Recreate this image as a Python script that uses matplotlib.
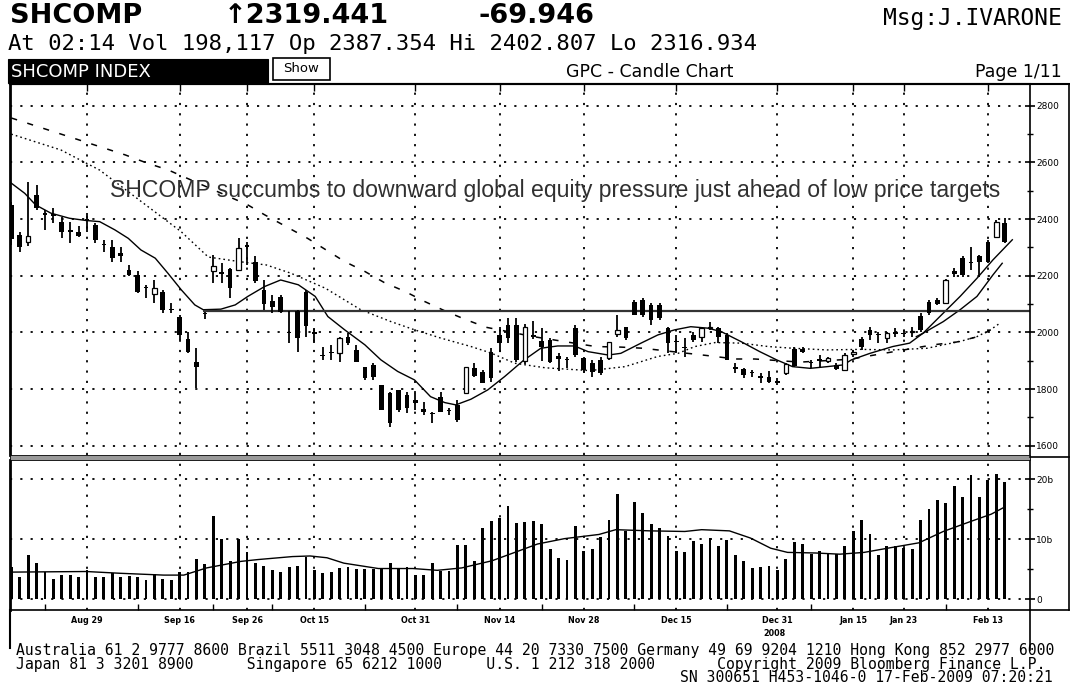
import numpy as np
import matplotlib
matplotlib.use("Agg")
import matplotlib.pyplot as plt
from matplotlib.patches import Rectangle
from matplotlib.lines import Line2D

W, H = 1070, 684

# ---- candle data (one entry per trading day, oldest first) ----
opens = [2450, 2345, 2320, 2486, 2420, 2418, 2391, 2360, 2356, 2400,
         2380, 2311, 2303, 2280, 2220, 2203, 2158, 2136, 2144, 2082,
         2056, 1976, 1897, 2068, 2215, 2212, 2223, 2221, 2310, 2250,
         2150, 2110, 2126, 2001, 2074, 2144, 2000, 1918, 1930, 1926,
         1985, 1938, 1879, 1885, 1814, 1785, 1797, 1779, 1760, 1730,
         1715, 1773, 1724, 1744, 1785, 1873, 1861, 1932, 1991, 2026,
         2026, 1900, 1990, 1970, 1973, 1915, 1905, 2015, 1908, 1891,
         1903, 1909, 1995, 2020, 2108, 2114, 2097, 2097, 2015, 1970,
         1950, 1991, 1985, 2015, 2015, 1991, 1876, 1870, 1857, 1845,
         1844, 1830, 1855, 1940, 1940, 1893, 1905, 1900, 1885, 1868,
         1925, 1975, 2010, 1993, 1980, 1998, 1998, 2000, 2058, 2108,
         2115, 2103, 2215, 2262, 2250, 2268, 2320, 2338, 2387]
highs = [2460, 2356, 2530, 2521, 2433, 2438, 2409, 2391, 2374, 2421,
         2385, 2327, 2327, 2303, 2238, 2218, 2168, 2186, 2150, 2103,
         2062, 2003, 1944, 2072, 2273, 2244, 2226, 2332, 2320, 2268,
         2185, 2132, 2132, 2074, 2080, 2150, 2015, 1950, 1956, 1985,
         1997, 1956, 1879, 1891, 1814, 1791, 1797, 1791, 1785, 1755,
         1720, 1791, 1732, 1761, 1879, 1891, 1867, 1944, 2020, 2050,
         2050, 2030, 2040, 2015, 1980, 1926, 1914, 2026, 1914, 1903,
         1914, 1967, 2060, 2020, 2114, 2120, 2103, 2103, 2020, 1991,
         1980, 2003, 2020, 2038, 2020, 1997, 1891, 1873, 1867, 1856,
         1862, 1838, 1893, 1950, 1950, 1903, 1920, 1914, 1891, 1926,
         1938, 1985, 2020, 2003, 2003, 2015, 2009, 2020, 2068, 2114,
         2120, 2188, 2226, 2268, 2303, 2274, 2327, 2397, 2403]
lows = [2310, 2285, 2305, 2433, 2362, 2385, 2332, 2315, 2335, 2356,
        2315, 2285, 2250, 2250, 2199, 2138, 2121, 2103, 2068, 2068,
        1974, 1927, 1803, 2048, 2174, 2174, 2121, 2215, 2238, 2174,
        2080, 2068, 2068, 1962, 1932, 1985, 1962, 1903, 1903, 1897,
        1956, 1897, 1832, 1832, 1726, 1667, 1720, 1714, 1726, 1708,
        1681, 1720, 1708, 1685, 1785, 1844, 1820, 1826, 1932, 1962,
        1897, 1890, 1975, 1900, 1891, 1862, 1873, 1914, 1856, 1844,
        1850, 1903, 1985, 1974, 2062, 2056, 2026, 2044, 1926, 1926,
        1914, 1967, 1967, 2008, 1962, 1903, 1856, 1838, 1844, 1820,
        1820, 1815, 1848, 1879, 1926, 1873, 1879, 1891, 1867, 1862,
        1914, 1938, 1973, 1962, 1962, 1985, 1985, 1985, 2003, 2062,
        2097, 2103, 2197, 2197, 2220, 2197, 2244, 2333, 2317]
closes = [2330, 2300, 2340, 2440, 2415, 2412, 2356, 2355, 2340, 2397,
          2327, 2308, 2262, 2270, 2203, 2141, 2155, 2156, 2080, 2078,
          1991, 1929, 1879, 2066, 2236, 2206, 2156, 2297, 2300, 2180,
          2100, 2090, 2073, 1999, 1979, 2021, 1995, 1915, 1926, 1980,
          1962, 1897, 1838, 1844, 1726, 1679, 1726, 1732, 1750, 1720,
          1713, 1720, 1722, 1691, 1879, 1847, 1820, 1838, 1962, 1979,
          1903, 2020, 1985, 1950, 1897, 1905, 1903, 1920, 1867, 1861,
          1856, 1967, 2010, 1980, 2062, 2062, 2044, 2050, 1962, 1965,
          1945, 1974, 2015, 2020, 1985, 1903, 1870, 1850, 1855, 1840,
          1826, 1821, 1888, 1881, 1930, 1891, 1900, 1910, 1870, 1920,
          1930, 1950, 1990, 1990, 1997, 1996, 1995, 2003, 2009, 2068,
          2100, 2185, 2205, 2203, 2245, 2250, 2250, 2388, 2319]

volume = [53, 37, 74, 60, 46, 33, 40, 40, 36, 48,
          36, 37, 44, 37, 38, 37, 32, 42, 33, 32,
          45, 45, 67, 58, 139, 100, 64, 100, 78, 61,
          56, 48, 45, 54, 56, 71, 48, 43, 45, 52,
          54, 50, 51, 51, 52, 60, 52, 54, 41, 41,
          60, 47, 47, 91, 91, 64, 118, 131, 136, 156,
          128, 129, 130, 126, 83, 69, 66, 122, 80, 83,
          103, 133, 175, 114, 162, 144, 126, 119, 106, 81,
          78, 97, 92, 102, 88, 99, 74, 64, 52, 54,
          56, 49, 67, 96, 92, 75, 80, 76, 75, 88,
          114, 133, 108, 74, 88, 88, 85, 83, 133, 151,
          165, 161, 189, 170, 207, 171, 199, 210, 196]

# ---- overlay lines (bar position, value) ----
ma_short_x = [0, 1.6, 2.9, 4.7, 6.9, 8.9, 10.5, 12.3, 13.9, 15.4, 17.1, 18.6, 20.2, 21.8,
              22.8, 24.9, 26.6, 28.1, 30.1, 32.0, 34.1, 36.1, 37.6, 39.6, 42.0, 43.9,
              45.9, 47.9, 49.8, 51.5, 52.8, 54.6, 56.6, 58.6, 60.8, 62.9, 64.9, 66.9,
              68.5, 70.9, 72.4, 74.8, 76.8, 78.8, 80.7, 82.7, 84.3, 86.7, 88.9, 90.9,
              92.8, 94.9, 96.9, 98.8, 99.8, 102.0, 104.7, 106.7, 108.3, 110.7, 112.7,
              114.7, 116.6, 118.9]
ma_short_y = [2527, 2491, 2450, 2421, 2403, 2395, 2391, 2362, 2332, 2291, 2262, 2209, 2150, 2097,
              2080, 2082, 2097, 2127, 2162, 2185, 2168, 2127, 2056, 2009, 1956, 1903,
              1862, 1832, 1773, 1752, 1744, 1764, 1797, 1844, 1900, 1944, 1952, 1952,
              1932, 1920, 1926, 1962, 1991, 2009, 2020, 2015, 2003, 1967, 1932, 1903,
              1879, 1873, 1879, 1885, 1903, 1926, 1950, 1962, 1997, 2068, 2127,
              2191, 2256, 2327]
trend_x = [107.5, 108.3, 110.7, 112.7, 114.7, 116.6, 117.7]
trend_y = [1985, 1997, 2038, 2080, 2127, 2203, 2244]

ma_mid_x = [0, 5.9, 10.5, 20.2, 23.4, 27.3, 30.3, 33.2, 37.3, 41.5, 45.1, 47.9, 51.0, 54.6,
            57.0, 59.8, 63.4, 68.7, 72.9, 76.8, 79.2, 81.2, 83.6, 86.7, 89.9, 92.8, 96.9,
            100.8, 104.7, 108.8, 110.7, 112.7, 114.7, 116.3, 117.4]
ma_mid_y = [2700, 2644, 2573, 2355, 2266, 2249, 2238, 2209, 2156, 2080, 2038, 2009, 1980, 1950,
            1927, 1891, 1875, 1865, 1879, 1915, 1926, 1950, 1964, 1962, 1950, 1944, 1938,
            1940, 1938, 1944, 1956, 1968, 1985, 2009, 2032]

ma_long_x = [0, 13.5, 16.2, 18.6, 28.1, 30.1, 35.2, 37.4, 39.6, 42.0, 44.3, 46.8, 49.1, 51.5,
             53.9, 56.4, 62.0, 69.4, 72.4, 75.0, 82.7, 86.0, 88.3, 93.7, 99.6, 109.5, 112.3,
             114.8, 117.4]
ma_long_y = [2757, 2627, 2597, 2574, 2450, 2415, 2332, 2291, 2250, 2215, 2176, 2144, 2109, 2076,
             2046, 2018, 1985, 1950, 1948, 1944, 1918, 1906, 1906, 1895, 1905, 1956, 1966,
             1985, 2025]

vol_ma_x = [0, 8.9, 13, 18.1, 20.5, 23.2, 27.3, 29.3, 33.4, 35.5, 37.5, 39.5, 43.6, 47.7,
            50.6, 53.5, 57.1, 60, 62.5, 65.7, 69.8, 71.8, 75.9, 80, 82, 85.3, 87.8, 90.2,
            92.2, 95.5, 98.4, 101.3, 104.5, 107.8, 110.7, 114, 116.4, 118]
vol_ma_y = [45, 46, 43, 40, 40, 52, 63, 66, 71, 72, 69, 60, 51, 51,
            48, 52, 64, 79, 92, 101, 108, 116, 114, 113, 116, 114, 102, 85,
            78, 77, 75, 78, 86, 94, 113, 130, 142, 154]

resistance = 2077

date_pos = [9, 20, 28, 36, 48, 58, 68, 79, 91, 100, 106, 116]
date_lbl = ['Aug 29', 'Sep 16', 'Sep 26', 'Oct 15', 'Oct 31', 'Nov 14',
            'Nov 28', 'Dec 15', 'Dec 31', 'Jan 15', 'Jan 23', 'Feb 13']
minor_pos = [4, 15, 24, 31, 42, 53, 63, 74, 85, 95, 111]
price_ticks = [1600, 1800, 2000, 2200, 2400, 2600, 2800]
vol_ticks = [0, 100, 200]
vol_lbl = ['0', '10b', '20b']


def fx(px):
    return px / W


def fy(py):
    return 1 - py / H


def fig_line(fig, x0, y0, x1, y1, lw=1.0, color='k'):
    fig.add_artist(Line2D([fx(x0), fx(x1)], [fy(y0), fy(y1)],
                          transform=fig.transFigure, color=color, lw=lw))


def fig_rect(fig, x0, y0, x1, y1, **kw):
    fig.add_artist(Rectangle((fx(x0), fy(y1)), (x1 - x0) / W, (y1 - y0) / H,
                             transform=fig.transFigure, **kw))


fig = plt.figure(figsize=(W / 100, H / 100), dpi=100)
fig.patch.set_facecolor('white')

o = np.array(opens, float)
h = np.array(highs, float)
l = np.array(lows, float)
c = np.array(closes, float)
x = np.arange(len(o))
xlim = (-0.15, 121.0)
grid_ls = (0, (1.2, 4.5))

# ---- price panel ----
ax = fig.add_axes([fx(10), fy(455), 1020 / W, 371 / H])
ax.set_xlim(*xlim)
ax.set_ylim(1567, 2877)

for yv in price_ticks:
    ax.axhline(yv, color='k', lw=1.3, ls=grid_ls, zorder=0)
for xv in date_pos:
    ax.axvline(xv, color='k', lw=1.3, ls=grid_ls, zorder=0)

ax.plot(ma_long_x, ma_long_y, color='k', lw=1.1, ls=(0, (4, 7)), zorder=1)
ax.plot(ma_mid_x, ma_mid_y, color='k', lw=1.0, ls=(0, (1.2, 2.2)), zorder=1)
ax.plot(ma_short_x, ma_short_y, color='k', lw=1.0, zorder=1)
ax.plot(trend_x, trend_y, color='k', lw=1.0, zorder=1)
ax.hlines(resistance, 22.8, xlim[1], color='#333333', lw=1.6, zorder=1)

up = c >= o
bot = np.minimum(o, c)
ht = np.maximum(np.abs(c - o), 4)
ax.vlines(x, l, h, color='k', lw=1.3, zorder=2)
ax.bar(x[~up], ht[~up], bottom=bot[~up], width=0.55, color='k', zorder=3)
ax.bar(x[up], ht[up], bottom=bot[up], width=0.55, facecolor='white',
       edgecolor='k', lw=0.9, zorder=3)

ax.yaxis.tick_right()
ax.set_yticks(price_ticks)
ax.set_yticklabels([str(t) for t in price_ticks], fontsize=6.5)
ax.set_yticks([t + 100 for t in price_ticks[:-1]], minor=True)
ax.tick_params(axis='y', which='major', direction='inout', length=7, width=1.2, pad=1)
ax.tick_params(axis='y', which='minor', direction='inout', length=4, width=1)
ax.set_xticks(date_pos)
ax.tick_params(axis='x', which='major', top=True, bottom=False, labelbottom=False,
               direction='in', length=5, width=1)
ax.spines['left'].set_linewidth(2)
ax.spines['top'].set_linewidth(1.5)
ax.spines['right'].set_linewidth(1.2)
ax.spines['bottom'].set_visible(False)

# ---- volume panel ----
vax = fig.add_axes([fx(10), fy(610), 1020 / W, 150 / H])
vax.set_xlim(*xlim)
vax.set_ylim(-18.4, 232.6)
for yv in vol_ticks:
    vax.axhline(yv, color='k', lw=1.3, ls=grid_ls, zorder=0)
for xv in date_pos:
    vax.axvline(xv, color='k', lw=1.3, ls=grid_ls, zorder=0)
vax.bar(x, volume, width=0.34, color='k', zorder=2)
vax.plot(vol_ma_x, vol_ma_y, color='k', lw=1.0, zorder=3)

vax.yaxis.tick_right()
vax.set_yticks(vol_ticks)
vax.set_yticklabels(vol_lbl, fontsize=6.5)
vax.set_yticks([50, 150], minor=True)
vax.tick_params(axis='y', which='major', direction='inout', length=7, width=1.2, pad=1)
vax.tick_params(axis='y', which='minor', direction='inout', length=4, width=1)
vax.set_xticks(date_pos)
vax.set_xticklabels(date_lbl, fontsize=5.8, fontweight='bold')
vax.set_xticks(minor_pos, minor=True)
vax.tick_params(axis='x', which='major', length=0, pad=4)
vax.tick_params(axis='x', which='minor', direction='in', length=4, width=1)
vax.spines['left'].set_linewidth(2)
vax.spines['right'].set_linewidth(1.2)
vax.spines['bottom'].set_linewidth(1.2)
vax.spines['top'].set_visible(False)

# separator band between panels and frame pieces
fig_rect(fig, 10, 455, 1030, 460, facecolor='#9a9a9a', edgecolor='k', lw=0.6)
fig_line(fig, 10, 84, 1069, 84, lw=1.5)
fig_line(fig, 1069, 84, 1069, 610, lw=1.2)
fig_line(fig, 1030, 457, 1069, 457, lw=1.2)
fig_line(fig, 1030, 610, 1069, 610, lw=1.2)
fig_line(fig, 10, 610, 10, 648, lw=1.5)
fig_line(fig, 1030, 610, 1030, 650, lw=1.2)
fig.text(fx(775), fy(634), '2008', fontsize=5.8, fontweight='bold', ha='center', va='center')

# annotation
fig.text(fx(110), fy(190),
         'SHCOMP succumbs to downward global equity pressure just ahead of low price targets',
         fontsize=16.6, family='Liberation Sans', color='#303030', va='center')

# ---- header ----
fig.text(fx(10), fy(16), 'SHCOMP', fontsize=19.5, fontweight='bold', va='center')
fig.text(fx(224), fy(16), '\u21912319.441', fontsize=19.5, fontweight='bold', va='center')
fig.text(fx(478), fy(16), '-69.946', fontsize=19.5, fontweight='bold', va='center')
fig.text(fx(1062), fy(18), 'Msg:J.IVARONE', fontsize=16.5, family='DejaVu Sans Mono',
         ha='right', va='center')
fig.text(fx(8), fy(44), 'At 02:14 Vol 198,117 Op 2387.354 Hi 2402.807 Lo 2316.934',
         fontsize=16.0, family='DejaVu Sans Mono', va='center')
fig_rect(fig, 8, 59, 268, 83, facecolor='black', edgecolor='black', lw=0.8)
fig.text(fx(11), fy(72), 'SHCOMP INDEX', fontsize=13, color='white', va='center')
fig_rect(fig, 273, 58, 330, 80, facecolor='white', edgecolor='black', lw=1.2)
fig.text(fx(301.5), fy(68), 'Show', fontsize=9.5, ha='center', va='center')
fig.text(fx(650), fy(72), 'GPC - Candle Chart', fontsize=12.5, ha='center', va='center')
fig.text(fx(1062), fy(72), 'Page 1/11', fontsize=12.5, ha='right', va='center')

# ---- footer ----
foot = ['Australia 61 2 9777 8600 Brazil 5511 3048 4500 Europe 44 20 7330 7500 '
        'Germany 49 69 9204 1210 Hong Kong 852 2977 6000',
        'Japan 81 3 3201 8900      Singapore 65 6212 1000     U.S. 1 212 318 2000       '
        'Copyright 2009 Bloomberg Finance L.P.',
        'SN 300651 H453-1046-0 17-Feb-2009 07:20:21']
fig.text(fx(16), fy(651), foot[0], fontsize=10.63, family='DejaVu Sans Mono', va='center')
fig.text(fx(16), fy(664), foot[1], fontsize=10.63, family='DejaVu Sans Mono', va='center')
fig.text(fx(1053), fy(677), foot[2], fontsize=10.63, family='DejaVu Sans Mono',
         ha='right', va='center')

fig.savefig('out.png', dpi=100)
